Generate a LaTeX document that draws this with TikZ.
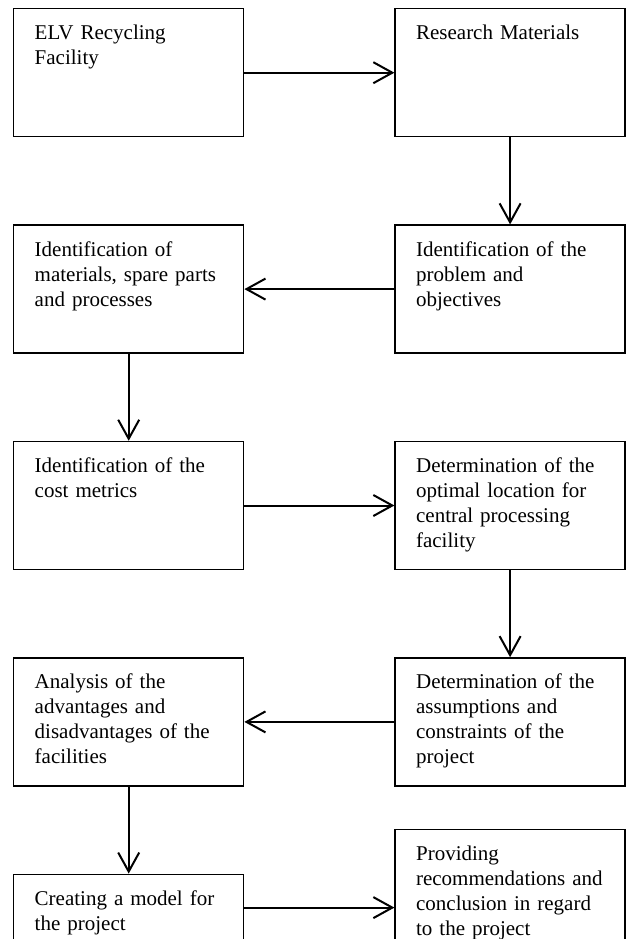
\documentclass[tikz,border=0pt]{standalone}
\usepackage{fontspec}
\setmainfont{Liberation Serif}
\usetikzlibrary{positioning,arrows.meta}

\begin{document}
\begin{tikzpicture}[
    x=1pt, y=1pt,
    node distance=87pt and 150pt,
    stage/.style={draw, line width=1.4pt, text width=188pt, align=left,
      inner xsep=21pt, inner ysep=0pt, text height=31pt, text depth=97pt,
      font=\fontsize{21}{25}\selectfont},
    flow/.style={line width=2pt, -{Straight Barb[length=19pt, width=21pt]}}
  ]
  \path[use as bounding box, clip] (0,0) rectangle (627,-939);

  % Nodes
  \node[stage, anchor=north west] (elv) at (13,-8) {ELV Recycling\\Facility};
  \node[stage, right=of elv] (research) {Research Materials};
  \node[stage, below=of research] (problem) {Identification of the\\problem and\\objectives};
  \node[stage, left=of problem] (parts) {Identification of\\materials, spare parts\\and processes};
  \node[stage, below=of parts] (cost) {Identification of the\\cost metrics};
  \node[stage, right=of cost] (location) {Determination of the\\optimal location for\\central processing\\facility};
  \node[stage, below=of location] (assume) {Determination of the\\assumptions and\\constraints of the\\project};
  \node[stage, left=of assume] (analysis) {Analysis of the\\advantages and\\disadvantages of the\\facilities};
  \node[stage, below=of analysis] (model) {Creating a model for\\the project};
  \node[stage, right=of model, yshift=45pt] (advice) {Providing\\recommendations and\\conclusion in regard\\to the project};
  \coordinate (m5) at ([yshift=-34pt]model.north east);

  % Arrows
  \draw[flow] (elv) -- (research);
  \draw[flow] (research) -- (problem);
  \draw[flow] (problem) -- (parts);
  \draw[flow] (parts) -- (cost);
  \draw[flow] (cost) -- (location);
  \draw[flow] (location) -- (assume);
  \draw[flow] (assume) -- (analysis);
  \draw[flow] (analysis) -- (model);
  \draw[flow] (m5) -- (m5 -| advice.west);
\end{tikzpicture}
\end{document}
